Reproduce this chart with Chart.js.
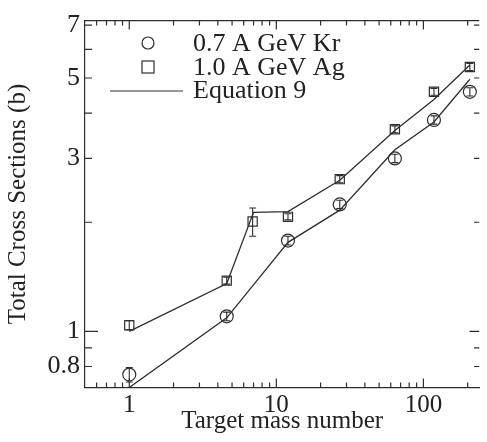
<!DOCTYPE html>
<html>
<head>
<meta charset="utf-8">
<script src="https://cdn.jsdelivr.net/npm/chart.js@4.4.0/dist/chart.umd.min.js"></script>
<style>
  html, body { margin: 0; padding: 0; background: #fff; }
  #wrap { width: 487px; height: 442px; }
</style>
</head>
<body>
<div id="wrap"><canvas id="chart"></canvas></div>
<script>
// ---- data ----
const krMass = [1, 4.6, 12, 27, 64, 118, 207];
const krSigma = [0.76, 1.10, 1.78, 2.24, 3.0, 3.83, 4.58];
const krErr = [0.035, 0.03, 0.05, 0.06, 0.08, 0.10, 0.12];

const agMass = [1, 4.6, 6.9, 12, 27, 64, 118, 207];
const agSigma = [1.04, 1.38, 2.01, 2.07, 2.63, 3.61, 4.58, 5.36];
const agErr = [0.03, 0.03, 0.18, 0.04, 0.06, 0.08, 0.10, 0.12];

const krEqMass = [1, 4.6, 12, 27, 64, 118, 207];
const krEqSigma = [0.70, 1.09, 1.76, 2.16, 3.17, 3.78, 4.96];

const agEqMass = [1, 4.6, 7, 12, 27, 64, 118, 207];
const agEqSigma = [1.0, 1.355, 2.13, 2.14, 2.61, 3.58, 4.36, 5.43];

const xLabelTicks = [1, 10, 100];
const xMinorTicks = [0.6, 0.7, 0.8, 0.9, 2, 3, 4, 5, 6, 7, 8, 9, 20, 30, 40, 50, 60, 70, 80, 90, 200];
const yLabelTicks = [0.8, 1, 3, 5, 7];
const yMinorTicks = [0.8, 0.9, 2, 3, 4, 5, 6, 7];

const ink = '#2e2e2e';
const serif = '"Liberation Serif", "DejaVu Serif", serif';

const pts = (xs, ys) => xs.map((v, i) => ({ x: v, y: ys[i] }));

/* ======= inward ticks + top frame ======= */
const frameTicks = {
    id: 'frameTicks',
    afterDraw(chart) {
        const { ctx, chartArea: a, scales: { x, y } } = chart;
        ctx.save();
        ctx.strokeStyle = ink;
        ctx.lineWidth = 1.2;
        ctx.beginPath();
        ctx.moveTo(a.left, a.top);
        ctx.lineTo(a.right, a.top);
        const xt = (v, len) => {
            const p = x.getPixelForValue(v);
            ctx.moveTo(p, a.bottom); ctx.lineTo(p, a.bottom - len);
            ctx.moveTo(p, a.top); ctx.lineTo(p, a.top + len);
        };
        xLabelTicks.forEach(v => xt(v, 9));
        xMinorTicks.forEach(v => xt(v, 5));
        const yt = (v, len) => {
            const p = y.getPixelForValue(v);
            ctx.moveTo(a.left, p); ctx.lineTo(a.left + len, p);
            ctx.moveTo(a.right, p); ctx.lineTo(a.right - len * 0.75, p);
        };
        yt(1, 13);
        yMinorTicks.forEach(v => yt(v, 7));
        ctx.stroke();
        ctx.restore();
    }
};

/* ======= vertical error bars ======= */
const errorBars = {
    id: 'errorBars',
    afterDatasetsDraw(chart) {
        const { ctx, scales: { x, y } } = chart;
        ctx.save();
        ctx.strokeStyle = ink;
        ctx.lineWidth = 1.1;
        chart.data.datasets.forEach(ds => {
            if (!ds.errors) return;
            ds.data.forEach((p, i) => {
                const px = x.getPixelForValue(p.x);
                const hi = y.getPixelForValue(p.y + ds.errors[i]);
                const lo = y.getPixelForValue(p.y - ds.errors[i]);
                ctx.beginPath();
                ctx.moveTo(px, hi); ctx.lineTo(px, lo);
                ctx.moveTo(px - 3.5, hi); ctx.lineTo(px + 3.5, hi);
                ctx.moveTo(px - 3.5, lo); ctx.lineTo(px + 3.5, lo);
                ctx.stroke();
            });
        });
        ctx.restore();
    }
};

/* ======= legend inside the frame ======= */
const insideLegend = {
    id: 'insideLegend',
    afterDraw(chart) {
        const { ctx, chartArea: a } = chart;
        const mx = a.left + 63, tx = a.left + 108;
        ctx.save();
        ctx.strokeStyle = ink;
        ctx.fillStyle = '#222';
        ctx.lineWidth = 1.2;
        ctx.beginPath();
        ctx.arc(mx, 43, 6, 0, Math.PI * 2);
        ctx.stroke();
        ctx.strokeRect(mx - 6, 61, 12, 12);
        ctx.beginPath();
        ctx.moveTo(a.left + 25, 91);
        ctx.lineTo(a.left + 98, 91);
        ctx.stroke();
        ctx.font = '26px ' + serif;
        ctx.textBaseline = 'middle';
        ctx.fillText('0.7 A GeV Kr', tx, 44);
        ctx.fillText('1.0 A GeV Ag', tx, 68);
        ctx.fillText('Equation 9', tx, 91);
        ctx.restore();
    }
};

const markerStyle = {
    showLine: false,
    pointBackgroundColor: 'rgba(0,0,0,0)',
    pointBorderColor: ink,
    pointBorderWidth: 1.2,
    pointRadius: 6.5
};

new Chart(document.getElementById('chart'), {
    type: 'line',
    data: {
        datasets: [
            { label: 'Equation 9 (Kr)', data: pts(krEqMass, krEqSigma), borderColor: ink, borderWidth: 1.3, pointRadius: 0, tension: 0 },
            { label: 'Equation 9 (Ag)', data: pts(agEqMass, agEqSigma), borderColor: ink, borderWidth: 1.3, pointRadius: 0, tension: 0 },
            { label: '0.7 A GeV Kr', data: pts(krMass, krSigma), errors: krErr, pointStyle: 'circle', ...markerStyle },
            { label: '1.0 A GeV Ag', data: pts(agMass, agSigma), errors: agErr, pointStyle: 'rect', ...markerStyle }
        ]
    },
    options: {
        responsive: true,
        maintainAspectRatio: false,
        animation: false,
        layout: { padding: { top: 5, right: 0, left: 0, bottom: 0 } },
        plugins: { legend: { display: false }, tooltip: { enabled: false } },
        scales: {
            x: {
                type: 'logarithmic',
                min: 0.5,
                max: 240,
                afterBuildTicks: s => { s.ticks = xLabelTicks.map(v => ({ value: v })); },
                afterFit: s => { s.height = 54.5; },
                grid: { display: false, drawTicks: false },
                border: { display: true, color: ink, width: 1.2 },
                ticks: {
                    autoSkip: false, maxRotation: 0, padding: 3, color: '#222',
                    font: { family: serif, size: 25 },
                    callback: v => String(v)
                },
                title: {
                    display: true, text: 'Target mass number', color: '#222',
                    font: { family: serif, size: 25, lineHeight: 1.2 },
                    padding: { top: 0, bottom: 6 }
                }
            },
            y: {
                type: 'logarithmic',
                min: 0.7,
                max: 7.2,
                afterBuildTicks: s => { s.ticks = yLabelTicks.map(v => ({ value: v })); },
                afterFit: s => { s.width = 85; },
                grid: { display: false, drawTicks: false },
                border: { display: true, color: ink, width: 1.2 },
                ticks: {
                    autoSkip: false, padding: 5, color: '#222',
                    font: { family: serif, size: 26 },
                    callback: v => String(v)
                },
                title: {
                    display: true, text: 'Total Cross Sections (b)', color: '#222',
                    font: { family: serif, size: 25, lineHeight: 1.2 },
                    padding: { top: 3.5, bottom: 0 }
                }
            }
        }
    },
    plugins: [errorBars, frameTicks, insideLegend]
});
</script>
</body>
</html>
